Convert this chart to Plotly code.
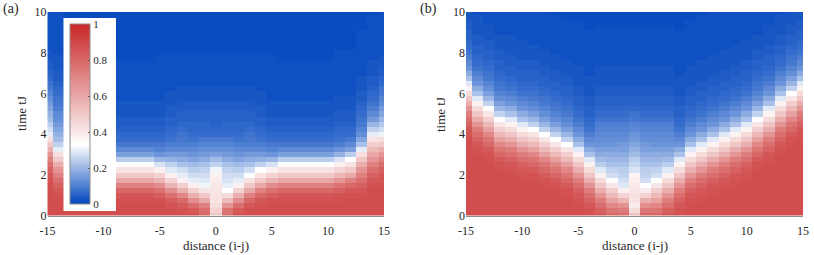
import plotly.graph_objects as go

distance = list(range(-15, 16))
time_tJ = [i / 4 for i in range(41)]
x_ticks = [-15, -10, -5, 0, 5, 10, 15]
x_labels = ["-15", "-10", "-5", "0", "5", "10", "15"]
y_ticks = [0, 2, 4, 6, 8, 10]
cb_ticks = [0, 0.2, 0.4, 0.6, 0.8, 1]
cb_labels = ["0", "0.2", "0.4", "0.6", "0.8", "1"]

# Panel (a): one list per distance, bottom (t=0) to top (t=10), in percent
a_m15 = [88,88,88,88,88,88,87,86,85,82,78,72,66,58,50,43,30,27,24,21,19,17,15,13,11,9,8,6,5,4,4,3,3,2,2,2,2,2,2,2,2]
a_m14 = [88,88,88,88,87,85,82,78,72,66,58,50,43,30,25,21,19,17,15,13,12,10,9,8,7,6,5,4,4,3,3,3,2,2,2,2,2,2,2,2,2]
a_m13 = [88,88,88,87,85,82,78,72,62,52,44,36,26,18,13,10,8,7,6,5,4,4,3,3,3,2,2,2,2,2,2,2,2,2,1,1,1,1,1,1,1]
a_m12 = [88,88,88,88,87,85,80,72,60,50,42,33,24,16,12,9,7,6,5,4,4,3,3,3,2,2,2,2,2,2,2,2,2,1,1,1,1,1,1,1,1]
a_m11 = [88,88,88,87,86,82,76,66,55,46,38,28,19,14,10,8,7,6,5,4,4,3,3,3,2,2,2,2,2,2,2,2,2,1,1,1,1,1,1,1,1]
a_m10 = [88,88,88,87,85,80,72,60,50,42,33,24,16,12,9,7,6,5,4,4,3,3,3,2,2,2,2,2,2,2,2,1,1,1,1,1,1,1,1,1,1]
a_m9 = [88,88,88,87,85,80,72,60,50,42,33,24,16,12,9,7,6,5,4,4,3,3,3,2,2,2,2,2,2,2,2,1,1,1,1,1,1,1,1,1,1]
a_m8 = [88,88,88,87,85,80,72,60,50,42,33,24,16,12,9,7,6,5,4,4,3,3,3,2,2,2,2,2,2,2,2,1,1,1,1,1,1,1,1,1,1]
a_m7 = [88,88,88,87,85,80,72,60,50,42,33,24,16,12,9,7,6,5,4,4,3,3,3,2,2,2,2,2,2,2,2,1,1,1,1,1,1,1,1,1,1]
a_m6 = [88,88,88,87,85,80,72,60,50,42,33,24,16,12,9,7,6,5,4,4,3,3,3,2,2,2,2,2,2,2,2,1,1,1,1,1,1,1,1,1,1]
a_m5 = [88,88,88,86,83,77,68,56,47,38,28,20,14,11,9,7,6,5,4,4,3,3,3,2,2,2,2,2,2,2,2,2,1,1,1,1,1,1,1,1,1]
a_m4 = [88,87,86,83,77,68,56,47,38,29,25,19,15,12,10,8,7,6,5,5,4,4,3,3,3,2,2,2,2,2,2,2,1,1,1,1,1,1,1,1,1]
a_m3 = [88,86,84,79,70,58,48,38,30,27,22,18,15,12,10,9,8,7,6,5,5,4,4,3,3,3,2,2,2,2,2,2,1,1,1,1,1,1,1,1,1]
a_m2 = [87,84,78,68,57,47,38,30,27,24,21,17,14,12,10,8,7,6,6,5,5,4,4,3,3,3,2,2,2,2,2,2,1,1,1,1,1,1,1,1,1]
a_m1 = [80,78,72,60,50,41,31,29,27,25,22,18,15,13,11,9,7,6,6,5,5,4,4,3,3,3,2,2,2,2,2,2,1,1,1,1,1,1,1,1,1]
a_0 = [50,47,43,42,42,41,40,39,37,31,25,21,16,13,11,9,7,6,5,5,5,4,4,3,3,3,2,2,2,2,2,2,1,1,1,1,1,1,1,1,1]
a_p1 = [78,76,66,54,44,33,30,28,27,25,22,18,15,13,11,9,7,6,6,5,5,4,4,3,3,3,2,2,2,2,2,2,1,1,1,1,1,1,1,1,1]
a_p2 = [87,84,78,68,57,47,38,30,27,24,21,17,14,12,10,8,7,6,6,5,5,4,4,3,3,3,2,2,2,2,2,2,1,1,1,1,1,1,1,1,1]
a_p3 = [88,87,85,80,72,60,50,42,33,27,22,18,15,12,10,9,8,7,6,5,5,4,4,3,3,3,2,2,2,2,2,2,1,1,1,1,1,1,1,1,1]
a_p4 = [88,88,87,85,80,72,60,50,42,33,25,19,15,12,10,8,7,6,5,5,4,4,3,3,3,2,2,2,2,2,2,2,1,1,1,1,1,1,1,1,1]
a_p5 = [88,88,88,86,83,77,68,56,47,38,28,20,14,11,9,7,6,5,4,4,3,3,3,2,2,2,2,2,2,2,2,2,1,1,1,1,1,1,1,1,1]
a_p6 = [88,88,88,87,85,80,72,60,50,42,33,24,16,12,9,7,6,5,4,4,3,3,3,2,2,2,2,2,2,2,2,1,1,1,1,1,1,1,1,1,1]
a_p7 = [88,88,88,87,85,80,72,60,50,42,33,24,16,12,9,7,6,5,4,4,3,3,3,2,2,2,2,2,2,2,2,1,1,1,1,1,1,1,1,1,1]
a_p8 = [88,88,88,87,85,80,72,60,50,42,33,24,16,12,9,7,6,5,4,4,3,3,3,2,2,2,2,2,2,2,2,1,1,1,1,1,1,1,1,1,1]
a_p9 = [88,88,88,87,85,80,72,60,50,42,33,24,16,12,9,7,6,5,4,4,3,3,3,2,2,2,2,2,2,2,2,1,1,1,1,1,1,1,1,1,1]
a_p10 = [88,88,88,87,85,80,72,60,50,42,33,24,16,12,9,7,6,5,4,4,3,3,3,2,2,2,2,2,2,2,2,1,1,1,1,1,1,1,1,1,1]
a_p11 = [88,88,88,87,86,82,76,66,55,46,38,28,19,14,10,8,7,6,5,4,4,3,3,3,2,2,2,2,2,2,2,2,2,1,1,1,1,1,1,1,1]
a_p12 = [88,88,88,88,87,85,80,72,60,50,42,33,24,16,12,9,7,6,5,4,4,3,3,3,2,2,2,2,2,2,2,2,2,1,1,1,1,1,1,1,1]
a_p13 = [88,88,88,88,87,85,82,78,72,66,58,50,43,30,22,17,13,11,9,8,7,6,5,4,4,3,3,3,2,2,2,2,2,2,2,2,2,1,1,1,1]
a_p14 = [88,88,88,88,88,88,87,85,82,78,72,66,60,54,48,42,30,25,20,15,12,10,8,7,6,5,4,4,3,3,3,2,2,2,2,2,2,2,2,2,1]
a_p15 = [88,88,88,88,88,88,87,86,85,82,78,72,66,58,50,43,31,27,23,20,17,15,12,11,9,8,6,5,4,4,3,3,2,2,2,2,2,2,2,2,2]

# Panel (b)
b_m15 = [88,88,88,88,88,88,88,88,88,88,88,88,88,88,88,87,86,85,82,78,73,66,58,51,44,37,29,22,18,14,12,10,8,7,6,5,5,4,4,3,3]
b_m14 = [88,88,88,88,88,88,88,88,88,88,88,88,87,86,85,82,78,73,66,58,51,44,37,29,22,18,14,12,10,8,7,6,5,5,4,4,3,3,3,3,2]
b_m13 = [88,88,88,88,88,88,88,88,88,88,88,87,86,84,80,76,70,62,55,48,41,33,25,20,16,13,11,9,8,7,6,5,5,4,4,3,3,3,2,2,2]
b_m12 = [88,88,88,88,88,88,88,88,88,87,86,84,80,76,70,62,55,48,41,33,25,20,16,13,11,9,8,7,6,5,5,4,4,3,3,3,2,2,2,2,2]
b_m11 = [88,88,88,88,88,88,88,88,87,86,85,82,78,73,66,58,51,44,37,29,22,18,14,12,10,8,7,6,5,5,4,4,3,3,3,3,2,2,2,2,2]
b_m10 = [88,88,88,88,88,88,88,87,86,85,82,78,73,66,58,51,44,37,29,22,18,14,12,10,8,7,6,5,5,4,4,3,3,3,3,2,2,2,2,2,2]
b_m9 = [88,88,88,88,88,88,88,87,86,84,80,76,70,62,55,48,41,33,25,20,16,13,11,9,8,7,6,5,5,4,4,3,3,3,2,2,2,2,2,2,2]
b_m8 = [88,88,88,88,88,88,87,86,84,80,76,70,62,55,48,41,33,25,20,16,13,11,9,8,7,6,5,5,4,4,3,3,3,2,2,2,2,2,2,2,2]
b_m7 = [88,88,88,88,88,87,86,84,80,76,70,62,55,48,41,33,25,20,16,13,11,9,8,7,6,5,5,4,4,3,3,3,2,2,2,2,2,2,2,2,1]
b_m6 = [88,88,88,88,87,86,84,80,76,70,62,55,48,41,33,25,20,16,13,11,9,8,7,6,5,5,4,4,3,3,3,2,2,2,2,2,2,2,2,1,1]
b_m5 = [88,88,87,86,85,82,78,73,66,58,51,44,37,29,22,18,14,12,10,8,7,6,5,5,4,4,3,3,3,3,2,2,2,2,2,2,2,2,2,1,1]
b_m4 = [87,86,85,82,78,73,66,58,51,44,37,29,22,18,14,12,10,8,7,6,5,5,4,4,3,3,3,3,2,2,2,2,2,2,2,2,2,1,1,1,1]
b_m3 = [85,82,78,73,66,58,51,44,37,29,24,21,18,16,14,13,12,11,10,8,7,6,5,5,4,4,3,3,3,3,2,2,2,2,2,2,2,2,1,1,1]
b_m2 = [80,76,70,62,55,48,41,33,27,25,22,20,18,16,14,13,12,11,10,8,7,6,5,5,4,4,3,3,3,3,2,2,2,2,2,2,2,2,1,1,1]
b_m1 = [78,74,67,56,46,38,29,27,25,24,22,20,18,16,15,13,12,11,10,8,7,6,5,5,4,4,3,3,3,3,2,2,2,2,2,2,2,2,1,1,1]
b_0 = [52,44,39,42,43,41,40,38,36,28,26,24,21,19,17,15,14,12,11,9,8,6,5,5,4,4,3,3,3,3,2,2,2,2,2,2,2,2,1,1,1]
b_p1 = [80,75,68,58,47,39,33,27,25,24,22,20,18,16,15,13,12,11,10,8,7,6,5,5,4,4,3,3,3,3,2,2,2,2,2,2,2,2,1,1,1]
b_p2 = [80,76,70,62,55,48,41,33,27,25,22,20,18,16,14,13,12,11,10,8,7,6,5,5,4,4,3,3,3,3,2,2,2,2,2,2,2,2,1,1,1]
b_p3 = [85,82,78,73,66,58,51,44,37,29,24,21,18,16,14,13,12,11,10,8,7,6,5,5,4,4,3,3,3,3,2,2,2,2,2,2,2,2,1,1,1]
b_p4 = [87,86,85,82,78,73,66,58,51,44,37,29,22,18,14,12,10,8,7,6,5,5,4,4,3,3,3,3,2,2,2,2,2,2,2,2,2,1,1,1,1]
b_p5 = [88,88,87,86,85,82,78,73,66,58,51,44,37,29,22,18,14,12,10,8,7,6,5,5,4,4,3,3,3,3,2,2,2,2,2,2,2,2,2,1,1]
b_p6 = [88,88,88,87,86,85,82,78,73,66,58,51,44,37,29,22,18,14,12,10,8,7,6,5,5,4,4,3,3,3,3,2,2,2,2,2,2,2,2,2,1]
b_p7 = [88,88,88,88,87,86,85,82,78,73,66,58,51,44,37,29,22,18,14,12,10,8,7,6,5,5,4,4,3,3,3,3,2,2,2,2,2,2,2,2,2]
b_p8 = [88,88,88,88,88,87,86,85,82,78,73,66,58,51,44,37,29,22,18,14,12,10,8,7,6,5,5,4,4,3,3,3,3,2,2,2,2,2,2,2,2]
b_p9 = [88,88,88,88,88,88,87,86,85,82,78,73,66,58,51,44,37,29,22,18,14,12,10,8,7,6,5,5,4,4,3,3,3,3,2,2,2,2,2,2,2]
b_p10 = [88,88,88,88,88,88,88,87,86,85,82,78,73,66,58,51,44,37,29,22,18,14,12,10,8,7,6,5,5,4,4,3,3,3,3,2,2,2,2,2,2]
b_p11 = [88,88,88,88,88,88,88,88,88,87,86,84,80,76,70,62,55,48,41,33,25,20,16,13,11,9,8,7,6,5,5,4,4,3,3,3,2,2,2,2,2]
b_p12 = [88,88,88,88,88,88,88,88,88,88,87,86,85,82,78,73,66,58,51,44,37,29,22,18,14,12,10,8,7,6,5,5,4,4,3,3,3,3,2,2,2]
b_p13 = [88,88,88,88,88,88,88,88,88,88,88,88,87,86,85,82,78,73,66,58,51,44,37,29,22,18,14,12,10,8,7,6,5,5,4,4,3,3,3,3,2]
b_p14 = [88,88,88,88,88,88,88,88,88,88,88,88,88,88,87,86,84,80,76,70,62,55,48,41,33,25,20,16,13,11,9,8,7,6,5,5,4,4,3,3,3]
b_p15 = [88,88,88,88,88,88,88,88,88,88,88,88,88,88,88,87,86,85,82,78,73,66,58,51,44,37,29,22,18,14,12,10,8,7,6,5,5,4,4,3,3]

cols_a = [a_m15,a_m14,a_m13,a_m12,a_m11,a_m10,a_m9,a_m8,a_m7,a_m6,a_m5,a_m4,a_m3,a_m2,a_m1,a_0,
          a_p1,a_p2,a_p3,a_p4,a_p5,a_p6,a_p7,a_p8,a_p9,a_p10,a_p11,a_p12,a_p13,a_p14,a_p15]
cols_b = [b_m15,b_m14,b_m13,b_m12,b_m11,b_m10,b_m9,b_m8,b_m7,b_m6,b_m5,b_m4,b_m3,b_m2,b_m1,b_0,
          b_p1,b_p2,b_p3,b_p4,b_p5,b_p6,b_p7,b_p8,b_p9,b_p10,b_p11,b_p12,b_p13,b_p14,b_p15]
for i, c in enumerate(cols_a + cols_b):
    assert len(c) == 41, (i, len(c))

z_a = [[c[r] / 100 for c in cols_a] for r in range(41)]
z_b = [[c[r] / 100 for c in cols_b] for r in range(41)]

W, H = 814, 255
FONT = "Liberation Serif"
TXT = "#262626"
scale = [[0, "rgb(0,70,190)"], [0.33, "rgb(255,255,255)"], [1, "rgb(200,38,38)"]]

fig = go.Figure()
fig.add_trace(go.Heatmap(
    x=distance, y=time_tJ, z=z_a, xaxis="x", yaxis="y", zmin=0, zmax=1, colorscale=scale,
    colorbar=dict(
        x=64 / W, xanchor="left",
        y=1 - 114 / H, yanchor="middle", lenmode="pixels", len=192, thickness=19.5, thicknessmode="pixels",
        xpad=6, ypad=6, bgcolor="white", outlinecolor="#8c8c8c", outlinewidth=1,
        tickvals=cb_ticks, ticktext=cb_labels, ticks="inside", ticklen=2, tickcolor="#555555",
        tickfont=dict(family=FONT, size=11, color=TXT),
    ),
))
fig.add_trace(go.Heatmap(
    x=distance, y=time_tJ, z=z_b, xaxis="x2", yaxis="y2", zmin=0, zmax=1, colorscale=scale, showscale=False,
))

ydom = [1 - 215.5 / H, 1 - 12 / H]
axx = dict(range=[-15, 15], tickvals=x_ticks, ticktext=x_labels, ticks="", showgrid=False, zeroline=False,
           automargin=False, showline=True, linecolor="#8c8c8c", linewidth=1, mirror=False, ticklabelstandoff=4,
           tickfont=dict(family=FONT, size=12, color=TXT))
axy = dict(range=[0, 10], tickvals=y_ticks, ticks="", showgrid=False, zeroline=False, showline=False,
           automargin=False, tickfont=dict(family=FONT, size=12, color=TXT))


def label(text, px, py, size=13, angle=0):
    return dict(text=text, xref="paper", yref="paper", x=px / W, y=1 - py / H, showarrow=False, textangle=angle,
                xanchor="center", yanchor="middle", font=dict(family=FONT, size=size, color=TXT))


fig.update_layout(
    width=W, height=H, autosize=False, margin=dict(l=0, r=0, t=0, b=0),
    paper_bgcolor="white", plot_bgcolor="white",
    xaxis=dict(domain=[47.5 / W, 384 / W], anchor="y", **axx),
    yaxis=dict(domain=ydom, anchor="x", **axy),
    xaxis2=dict(domain=[466 / W, 803 / W], anchor="y2", **axx),
    yaxis2=dict(domain=ydom, anchor="x2", **axy),
    annotations=[
        label("(a)", 11, 9, 14), label("(b)", 429, 9, 14),
        label("distance (i-j)", 215.5, 245), label("distance (i-j)", 634.5, 245),
        label("time tJ", 22, 114, 13, -90), label("time tJ", 441, 114, 13, -90),
    ],
)
fig.write_html("out.html", post_script="document.body.style.margin='0';", config={"displayModeBar": False})
